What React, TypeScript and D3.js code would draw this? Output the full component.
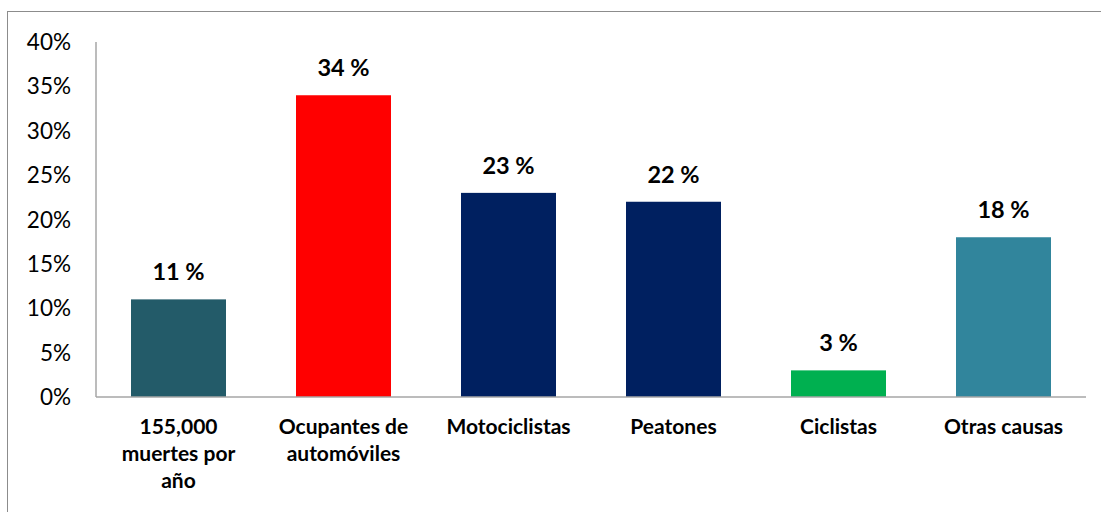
import React from "react";
import * as d3 from "d3";

const categories: string[][] = [
  ["155,000", "muertes por", "año"],
  ["Ocupantes de", "automóviles"],
  ["Motociclistas"],
  ["Peatones"],
  ["Ciclistas"],
  ["Otras causas"],
];
const values: number[] = [11, 34, 23, 22, 3, 18];
const colors: string[] = ["#235B69", "#FF0000", "#002060", "#002060", "#00B050", "#31859C"];
const yTicks: number[] = [0, 5, 10, 15, 20, 25, 30, 35, 40];

const W = 1101;
const H = 512;
const left = 96;
const right = 1086;
const top = 42;
const bottom = 397;
const FONT = "Lato, 'Open Sans', sans-serif";

export default function App() {
  const x = d3
    .scaleBand<number>()
    .domain(values.map((_, i) => i))
    .range([left, right])
    .paddingInner(70 / 165)
    .paddingOuter(35 / 165);
  const y = d3.scaleLinear().domain([0, 40]).range([bottom, top]);
  const band = (right - left) / values.length;

  return (
    <svg
      width={W}
      height={H}
      style={{ position: "absolute", left: 0, top: 0, display: "block", background: "#fff" }}
    >
      <rect x={7.5} y={11.5} width={W + 20} height={H + 20} fill="#fff" stroke="#8c8c8c" strokeWidth={1} />
      {values.map((v, i) => (
        <rect key={i} x={x(i)!} y={y(v)} width={x.bandwidth()} height={y(0) - y(v)} fill={colors[i]} />
      ))}
      <line x1={left} x2={left} y1={top} y2={bottom} stroke="#a6a6a6" strokeWidth={1.5} />
      <line x1={left} x2={right} y1={bottom} y2={bottom} stroke="#a6a6a6" strokeWidth={1.5} />
      {yTicks.map((t) => (
        <text
          key={t}
          x={71}
          y={y(t)}
          dy="0.36em"
          textAnchor="end"
          fontFamily={FONT}
          fontSize={22.5}
          fill="#000"
        >
          {t}%
        </text>
      ))}
      {values.map((v, i) => (
        <text
          key={i}
          x={left + band * (i + 0.5)}
          y={y(v) - 19}
          textAnchor="middle"
          fontFamily={FONT}
          fontWeight="bold"
          fontSize={23.5}
          fill="#000"
        >
          {v} %
        </text>
      ))}
      {categories.map((lines, i) => (
        <text
          key={i}
          textAnchor="middle"
          fontFamily={FONT}
          fontWeight="bold"
          fontSize={21}
          fill="#000"
        >
          {lines.map((l, j) => (
            <tspan key={j} x={left + band * (i + 0.5)} y={434 + j * 27}>
              {l}
            </tspan>
          ))}
        </text>
      ))}
    </svg>
  );
}
